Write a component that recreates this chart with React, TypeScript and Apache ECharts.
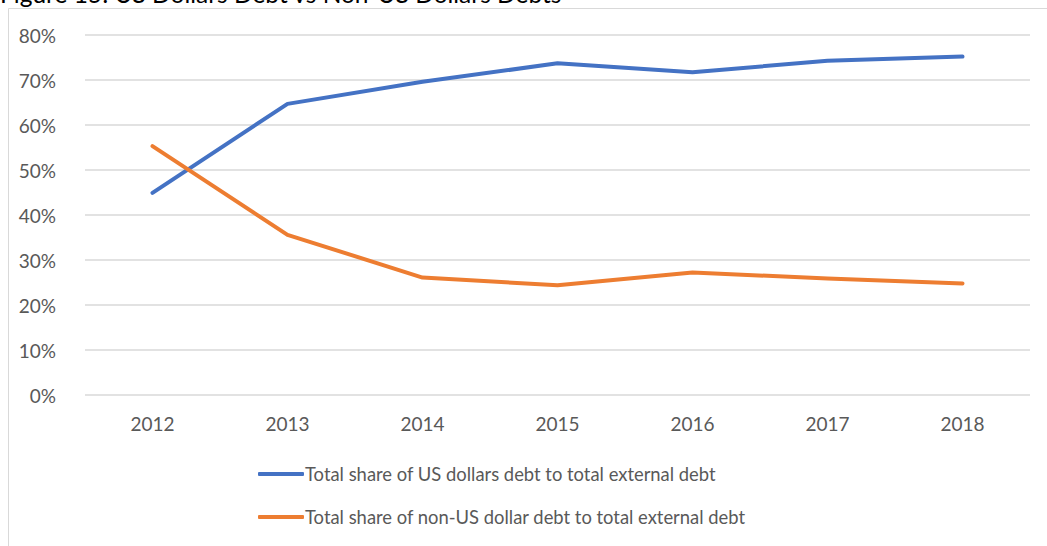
import React, { useEffect, useRef } from "react";
import * as echarts from "echarts";

const years = ["2012", "2013", "2014", "2015", "2016", "2017", "2018"];
const usdShare = [0.449, 0.647, 0.696, 0.737, 0.717, 0.743, 0.752];
const nonUsdShare = [0.553, 0.356, 0.261, 0.244, 0.272, 0.259, 0.248];
const seriesNames = [
  "Total share of US dollars debt to total external debt",
  "Total share of non-US dollar debt to total external debt",
];
const titleText = "Figure 15: US Dollars Debt vs Non-US Dollars Debts";

export default function App() {
  const ref = useRef<HTMLDivElement>(null);
  useEffect(() => {
    if (!ref.current) return;
    const chart = echarts.init(ref.current, null, { renderer: "svg" });
    const font = "Lato";
    chart.setOption({
      animation: false,
      textStyle: { fontFamily: font },
      graphic: [
        {
          type: "rect",
          shape: { x: 8.5, y: 8.5, width: 1200, height: 700 },
          style: { fill: "none", stroke: "#D9D9D9", lineWidth: 1 },
          silent: true,
          z: -1,
        },
        {
          type: "text",
          x: 0,
          y: -19.5,
          style: { text: titleText, fill: "#000", font: `24.5px ${font}`, verticalAlign: "top" },
          silent: true,
        },
      ],
      grid: { left: 85, right: 17, top: 35, bottom: 151, containLabel: false },
      legend: {
        orient: "vertical",
        left: 253,
        top: 459,
        icon: "roundRect",
        itemWidth: 46,
        itemHeight: 4,
        itemGap: 23,
        textStyle: {
          color: "#595959",
          fontSize: 18.4,
          lineHeight: 20,
          fontFamily: font,
          padding: [0, 0, 0, -4],
        },
        data: seriesNames,
      },
      xAxis: {
        type: "category",
        data: years,
        boundaryGap: true,
        axisLine: { show: false },
        axisTick: { show: false },
        axisLabel: { color: "#595959", fontSize: 19, margin: 19, fontFamily: font },
      },
      yAxis: {
        type: "value",
        min: 0,
        max: 0.8,
        interval: 0.1,
        axisLine: { show: false },
        axisTick: { show: false },
        axisLabel: {
          color: "#595959",
          fontSize: 19,
          margin: 29,
          fontFamily: font,
          formatter: (v: number) => `${Math.round(v * 100)}%`,
        },
        splitLine: { lineStyle: { color: "#D9D9D9", width: 1.5 } },
      },
      series: [
        {
          name: seriesNames[0],
          type: "line",
          data: usdShare,
          symbol: "none",
          lineStyle: { color: "#4472C4", width: 4, cap: "round", join: "round" },
          itemStyle: { color: "#4472C4" },
        },
        {
          name: seriesNames[1],
          type: "line",
          data: nonUsdShare,
          symbol: "none",
          lineStyle: { color: "#ED7D31", width: 4, cap: "round", join: "round" },
          itemStyle: { color: "#ED7D31" },
        },
      ],
    });
    return () => chart.dispose();
  }, []);
  return (
    <div
      ref={ref}
      style={{ position: "absolute", left: 0, top: 0, width: 1047, height: 546, background: "#fff" }}
    />
  );
}
